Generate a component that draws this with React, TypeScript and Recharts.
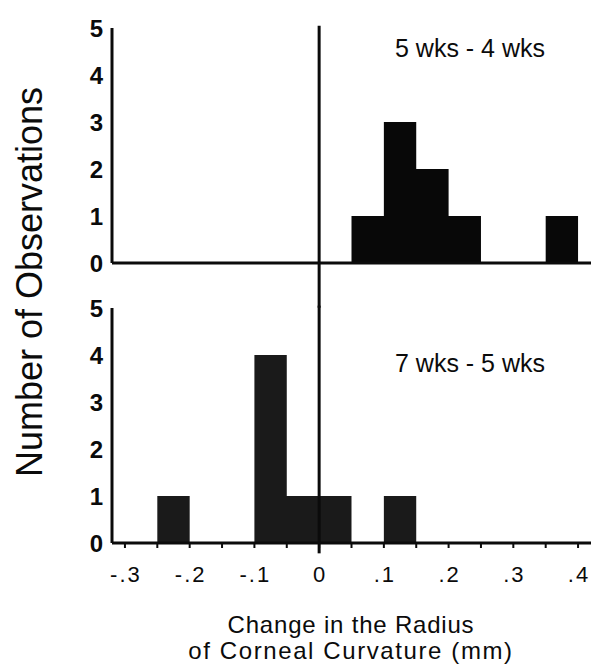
import { AreaChart, Area, XAxis, YAxis, ReferenceLine } from 'recharts';

// Histogram bins, 0.05 mm wide, left edges from -.3 to .35
const BIN_STARTS = [-0.3, -0.25, -0.2, -0.15, -0.1, -0.05, 0, 0.05, 0.1, 0.15, 0.2, 0.25, 0.3, 0.35];
const BIN_END = 0.4;

// counts per bin
const WEEK5_MINUS_4 = [0, 0, 0, 0, 0, 0, 0, 1, 3, 2, 1, 0, 0, 1];
const WEEK7_MINUS_5 = [0, 1, 0, 0, 4, 1, 1, 0, 1, 0, 0, 0, 0, 0];

const X_TICKS = [-0.3, -0.25, -0.2, -0.15, -0.1, -0.05, 0, 0.05, 0.1, 0.15, 0.2, 0.25, 0.3, 0.35, 0.4];
const X_TICK_LABELS = ['-.3', '', '-.2', '', '-.1', '', '0', '', '.1', '', '.2', '', '.3', '', '.4'];
const Y_TICKS = [0, 1, 2, 3, 4, 5];

const FONT = 'Liberation Sans, Arial, Helvetica, sans-serif';
const INK = '#0b0b0b';

// stepAfter area needs a closing point at the right edge of the last bin
function toSteps(counts: number[]) {
  const rows = BIN_STARTS.map((x, i) => ({ x, count: counts[i] }));
  rows.push({ x: BIN_END, count: counts[counts.length - 1] });
  return rows;
}

function XTick({ x, y, index }: any) {
  const label = X_TICK_LABELS[index] ?? '';
  if (!label) return null;
  return (
    <text x={x + 1} y={y + 34} textAnchor="middle" fontSize={22} letterSpacing={2} fontFamily={FONT} fill={INK}>
      {label}
    </text>
  );
}

function YTick({ x, y, payload }: any) {
  return (
    <text x={x - 1} y={y + 9} textAnchor="end" fontSize={24} fontWeight={700} fontFamily={FONT} fill={INK}>
      {payload.value}
    </text>
  );
}

interface PanelProps {
  counts: number[];
  title: string;
  titleY: number;
  fill: string;
  showLabels: boolean;
  height: number;
  bottom: number;
  lineFrom: number;
}

function Panel({ counts, title, titleY, fill, showLabels, height, bottom, lineFrom }: PanelProps) {
  return (
    <AreaChart
      width={595}
      height={height}
      data={toSteps(counts)}
      margin={{ top: 28, right: 4, left: 0, bottom }}
    >
      <XAxis
        dataKey="x"
        type="number"
        domain={[-0.32, 0.42]}
        ticks={X_TICKS}
        interval={0}
        allowDataOverflow
        height={showLabels ? 40 : 10}
        tickSize={5}
        tickMargin={0}
        axisLine={{ stroke: INK, strokeWidth: 3 }}
        tickLine={{ stroke: INK, strokeWidth: 2 }}
        tick={showLabels ? <XTick /> : false}
      />
      <YAxis
        type="number"
        domain={[0, 5]}
        ticks={Y_TICKS}
        interval={0}
        width={112}
        tickSize={0}
        tickMargin={8}
        axisLine={{ stroke: INK, strokeWidth: 3 }}
        tickLine={false}
        tick={<YTick />}
      />
      <Area
        type="stepAfter"
        dataKey="count"
        stroke="none"
        fill={fill}
        fillOpacity={1}
        baseValue={0}
        isAnimationActive={false}
      />
      <ReferenceLine
        segment={[{ x: 0, y: lineFrom }, { x: 0, y: 5.05 }]}
        stroke={INK}
        strokeWidth={3}
        ifOverflow="visible"
      />
      <text x={470} y={titleY} textAnchor="middle" fontSize={25} fontFamily={FONT} fill={INK}>
        {title}
      </text>
    </AreaChart>
  );
}

const titleLine = {
  position: 'absolute' as const,
  left: 100,
  width: 502,
  textAlign: 'center' as const,
  fontFamily: FONT,
  fontSize: 24,
  lineHeight: '26px',
  color: INK,
  whiteSpace: 'nowrap' as const,
};

export default function App() {
  return (
    <div style={{ position: 'absolute', left: 0, top: 0, width: 595, height: 666, background: '#fff' }}>
      <div style={{ position: 'absolute', left: 0, top: 0 }}>
        <Panel
          counts={WEEK5_MINUS_4}
          title="5 wks - 4 wks"
          titleY={57}
          fill="#080808"
          showLabels={false}
          height={310}
          bottom={37}
          lineFrom={-0.95}
        />
      </div>
      <div style={{ position: 'absolute', left: 0, top: 280 }}>
        <Panel
          counts={WEEK7_MINUS_5}
          title="7 wks - 5 wks"
          titleY={92}
          fill="#1a1a1a"
          showLabels
          height={322}
          bottom={19}
          lineFrom={-0.22}
        />
      </div>
      <div
        style={{
          position: 'absolute',
          left: 30,
          top: 282,
          transform: 'translate(-50%, -50%) rotate(-90deg)',
          whiteSpace: 'nowrap',
          fontFamily: FONT,
          fontSize: 36,
          color: INK,
        }}
      >
        Number of Observations
      </div>
      <div style={{ ...titleLine, top: 612, letterSpacing: 0.8 }}>Change in the Radius</div>
      <div style={{ ...titleLine, top: 638, letterSpacing: 1.6 }}>of Corneal Curvature (mm)</div>
    </div>
  );
}
